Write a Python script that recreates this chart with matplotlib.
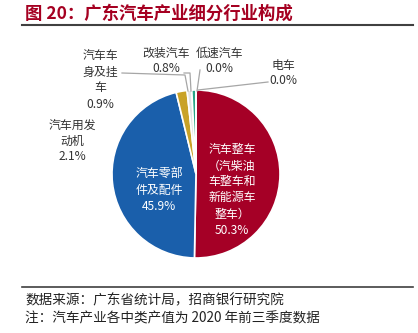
import matplotlib.pyplot as plt
from matplotlib.lines import Line2D

plt.rcParams['font.family'] = ['Noto Sans CJK SC', 'DejaVu Sans']

labels = ["汽车整车\n（汽柴油\n车整车和\n新能源车\n整车）", "汽车零部\n件及配件", "汽车用发\n动机",
          "汽车车\n身及挂\n车", "改装汽车", "低速汽车", "电车"]
values = [50.3, 45.9, 2.1, 0.9, 0.8, 0.0, 0.0]
colors = ["#a50026", "#1a5fab", "#c9a227", "#e3e3e3", "#2aa487", "#bfbfbf", "#bfbfbf"]

title = "图 20：广东汽车产业细分行业构成"
notes = ["数据来源：广东省统计局，招商银行研究院", "注：汽车产业各中类产值为 2020 年前三季度数据"]

W, H = 418, 333
fig = plt.figure(figsize=(W / 100, H / 100), dpi=100)

# pie centre / radius in pixels
cx, cy, r = 196, 174, 84
ax = fig.add_axes([(cx - r) / W, (H - cy - r) / H, 2 * r / W, 2 * r / H])
ax.pie(values, colors=colors, startangle=90, counterclock=False, radius=1,
       wedgeprops=dict(edgecolor='white', linewidth=1.2))
ax.set_xlim(-1, 1)
ax.set_ylim(-1, 1)
ax.set_aspect('equal')
ax.axis('off')


def fx(x, y):
    return x / W, 1 - y / H


def fmt(v):
    return f"{v:.1f}%"


fs = 8.6
spots = [(232, 190, 'white'), (159, 190, 'white'), (72, 141, '#333333'),
         (100, 80, '#333333'), (166, 61, '#333333'), (219, 61, '#333333'),
         (283, 73, '#333333')]
for lab, v, (x, y, c) in zip(labels, values, spots):
    fig.text(*fx(x, y), lab + "\n" + fmt(v), color=c, fontsize=fs,
             ha='center', va='center', linespacing=1.3)

# leader lines (pixel paths)
lc = '#a6a6a6'
for path in [[(122, 73), (185, 75), (188, 91)],
             [(184, 73), (190, 73), (191, 91)],
             [(200, 70), (197, 91)],
             [(268, 82), (198, 90)]]:
    xs, ys = zip(*[fx(x, y) for x, y in path])
    fig.add_artist(Line2D(xs, ys, color=lc, lw=0.9))

# title and rules
fig.text(*fx(25, 14), title, color='#a50021', fontsize=12.5, fontweight='bold',
         ha='left', va='center')
fig.add_artist(Line2D([22 / W, 413 / W], [1 - 25 / H, 1 - 25 / H], color='#404040', lw=1.5))
fig.add_artist(Line2D([22 / W, 413 / W], [1 - 287 / H, 1 - 287 / H], color='#404040', lw=1.2))
fig.text(*fx(25, 300), notes[0], color='#222222', fontsize=9.8, ha='left', va='center')
fig.text(*fx(25, 318), notes[1], color='#222222', fontsize=9.8, ha='left', va='center')

fig.savefig("out.png", dpi=100)
